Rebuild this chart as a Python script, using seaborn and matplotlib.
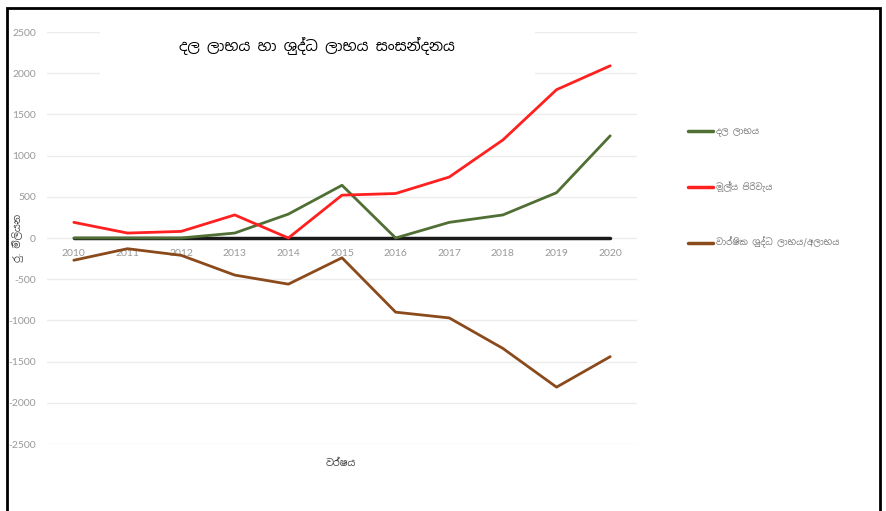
import matplotlib
matplotlib.use("Agg")
import matplotlib.pyplot as plt
import matplotlib.patches as patches
from matplotlib import font_manager
import pandas as pd
import seaborn as sns

# ---- data ----
years = ["2010", "2011", "2012", "2013", "2014", "2015", "2016", "2017", "2018", "2019", "2020"]
gross_profit = [0, 0, 0, 60, 290, 640, 0, 190, 280, 550, 1240]
finance_cost = [190, 60, 80, 280, 0, 520, 540, 740, 1190, 1800, 2090]
net_profit = [-270, -130, -210, -450, -560, -240, -900, -970, -1340, -1810, -1440]
zero_line = [0, 0, 0, 0, 0, 0, 0, 0, 0, 0, 0]

series_names = ["දල ලාභය", "මූල්‍ය පිරිවැය", "වාර්ෂික ශුද්ධ ලාභය/අලාභය"]
series_colors = ["#4f6f34", "#ff2020", "#8b4a1c"]
title_text = "දල ලාභය හා ශුද්ධ ලාභය සංසන්දනය"
y_label = "රු. මිලියන"
x_label = "වර්ෂය"

sns.set_theme(style="white")

# look for a font that has Sinhala glyphs
sinhala = None
for f in font_manager.fontManager.ttflist:
    if "sinhala" in f.name.lower() or "iskoola" in f.name.lower():
        sinhala = f.name
        break
families = [sinhala, "DejaVu Sans"] if sinhala else ["DejaVu Sans"]
plt.rcParams["font.family"] = families
plt.rcParams["axes.unicode_minus"] = False

rows = []
for name, vals in zip(series_names, [gross_profit, finance_cost, net_profit]):
    for i, v in enumerate(vals):
        rows.append({"idx": i, "value": v, "series": name})
df = pd.DataFrame(rows)

fig = plt.figure(figsize=(8.86, 5.11), dpi=100)
ax = fig.add_axes([47 / 886, 1 - 444 / 511, (637 - 47) / 886, (444 - 32) / 511])

sns.lineplot(data=df, x="idx", y="value", hue="series", palette=series_colors,
             linewidth=2, ax=ax, legend=True, zorder=3)
ax.plot(range(len(years)), zero_line, color="#1a1a1a", linewidth=2.5, zorder=2)

ax.set_xlim(-0.5, len(years) - 0.5)
ax.set_ylim(-2500, 2500)
ax.set_yticks(range(-2500, 2501, 500))
ax.set_xticks(range(len(years)))
ax.set_xticklabels(years)
ax.grid(axis="y", color="#ececec", linewidth=1)
ax.set_axisbelow(True)
for s in ax.spines.values():
    s.set_visible(False)
ax.spines["bottom"].set_position(("data", 0))
ax.tick_params(axis="both", length=0, labelsize=7.5, labelcolor="#999999")
ax.tick_params(axis="x", pad=8)
ax.tick_params(axis="y", pad=8)
for lab in ax.get_xticklabels() + ax.get_yticklabels():
    lab.set_fontfamily("Lato")
ax.set_xlabel("")
ax.set_ylabel("")

# legend at right
leg = ax.legend(loc="upper left", bbox_to_anchor=(680 / 886, 1 - 119 / 511),
                bbox_transform=fig.transFigure, frameon=False, fontsize=6.3,
                labelspacing=5.1, handlelength=2.9, handletextpad=0.3)
for t in leg.get_texts():
    t.set_color("#7a7a7a")
for h in leg.get_lines():
    h.set_linewidth(2.5)

# white box behind the title hides the gridlines there
ax.add_patch(patches.Rectangle((100 / 886, 1 - 85 / 511), 435 / 886, 65 / 511,
                               transform=fig.transFigure, facecolor="white",
                               edgecolor="none", zorder=1))
fig.text(317 / 886, 1 - 46 / 511, title_text, ha="center", va="center", fontsize=10.5,
         color="black")
fig.text(18 / 886, 1 - 238 / 511, y_label, rotation=90, ha="center", va="center",
         fontsize=7, color="#444444")
fig.text(341 / 886, 1 - 463 / 511, x_label, ha="center", va="center",
         fontsize=7, color="#444444")

# outer frame
fig.patches.append(patches.Rectangle((7 / 886, -0.1), 873 / 886, 1 - 8 / 511 + 0.1,
                                     transform=fig.transFigure, fill=False,
                                     edgecolor="black", linewidth=2))

fig.savefig("out.png", dpi=100)
